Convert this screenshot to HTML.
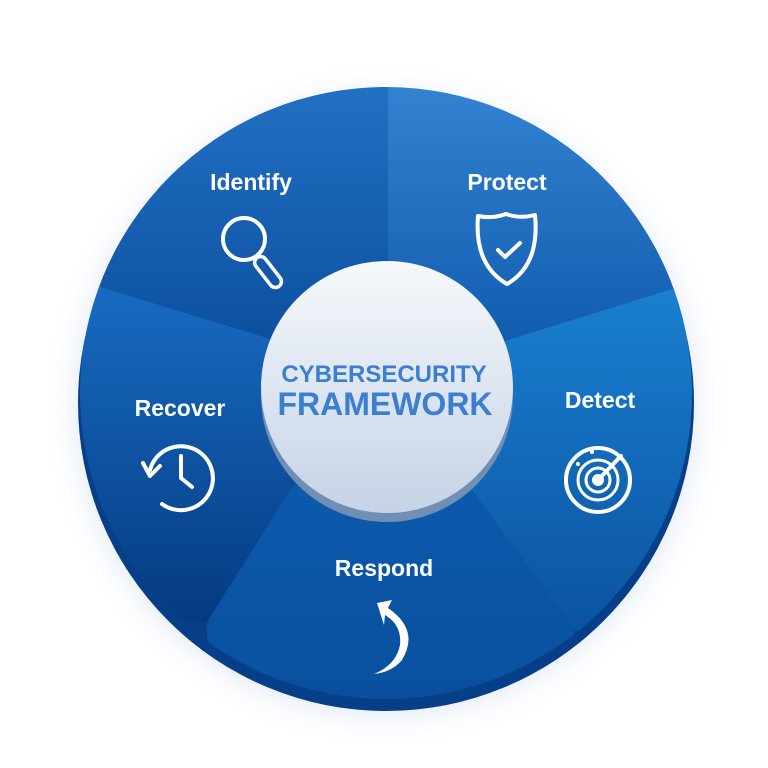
<!DOCTYPE html>
<html><head><meta charset="utf-8"><style>
html,body{margin:0;padding:0;background:#fff;width:768px;height:768px;overflow:hidden}
svg{display:block}
text{font-family:"Liberation Sans",sans-serif;font-weight:bold}
</style></head><body>
<svg width="768" height="768" viewBox="0 0 768 768">
<defs>
<radialGradient id="glow" cx="50%" cy="50%" r="50%">
<stop offset="80%" stop-color="#b8cbe6" stop-opacity="0.8"/>
<stop offset="100%" stop-color="#ffffff" stop-opacity="0"/>
</radialGradient>
<clipPath id="cc"><circle cx="386" cy="393" r="306"/></clipPath>
<linearGradient id="gId" x1="0" y1="0" x2="0" y2="1"><stop offset="0" stop-color="#2676cb"/><stop offset="1" stop-color="#084a98"/></linearGradient>
<linearGradient id="gPr" x1="0" y1="0" x2="0" y2="1"><stop offset="0" stop-color="#3a89d8"/><stop offset="1" stop-color="#0b55a8"/></linearGradient>
<linearGradient id="gDe" x1="0" y1="0" x2="0" y2="1"><stop offset="0" stop-color="#1a82d2"/><stop offset="1" stop-color="#094a98"/></linearGradient>
<linearGradient id="gRs" x1="0" y1="0" x2="0" y2="1"><stop offset="0" stop-color="#0d5fb4"/><stop offset="1" stop-color="#094b98"/></linearGradient>
<linearGradient id="gRc" x1="0" y1="0" x2="0" y2="1"><stop offset="0" stop-color="#176cc3"/><stop offset="1" stop-color="#053a80"/></linearGradient>
<linearGradient id="gC" x1="0" y1="0" x2="0" y2="1"><stop offset="0" stop-color="#f6f8fb"/><stop offset="1" stop-color="#c5d3e6"/></linearGradient>
</defs>
<circle cx="386" cy="405" r="345" fill="url(#glow)"/>
<circle cx="386" cy="403" r="308" fill="#063f88"/>
<g clip-path="url(#cc)">
<polygon points="388,388 388,40 40,210 94,285 264,337" fill="url(#gId)"/>
<polygon points="388,388 388,40 740,40 740,270 681,288 511,339" fill="url(#gPr)"/>
<polygon points="388,388 511,339 740,268 740,700 575,630 475,494" fill="url(#gDe)"/>
<polygon points="388,388 475,494 575,630 560,760 210,760 207,622 290,490" fill="url(#gRs)"/>
<polygon points="388,388 290,490 207,622 40,600 40,283 94,285 264,337" fill="url(#gRc)"/>
<polygon points="207,622 575,630 560,680 210,680" fill="#0a52a2"/>
</g>
<circle cx="387" cy="396" r="126" fill="#6f8fb5"/>
<circle cx="387" cy="387" r="126" fill="url(#gC)"/>
<text x="384" y="382" text-anchor="middle" font-size="24" fill="#3a7fd0">CYBERSECURITY</text>
<text x="385" y="415" text-anchor="middle" font-size="32" fill="#3a7fd0">FRAMEWORK</text>
<g fill="#fff" font-size="23" text-anchor="middle">
<text x="251" y="190">Identify</text>
<text x="507" y="190">Protect</text>
<text x="180" y="416">Recover</text>
<text x="600" y="408">Detect</text>
<text x="384" y="576">Respond</text>
</g>
<g fill="none" stroke="#fff" stroke-width="4" stroke-linecap="round" stroke-linejoin="round">
<circle cx="244" cy="239" r="21"/>
<rect x="262" y="254" width="12" height="36" rx="6" transform="rotate(-38 268 272)" stroke-width="3.5"/>
<path d="M478,216 Q492,219 506,214 Q520,219 535,215 Q540,265 507,284 Q474,265 478,216 Z"/>
<path d="M498,250 L505,257 L520,243"/>
<path d="M150,470 A32,32 0 1 1 162,504"/>
<path d="M143,463 L150,476 L160,466"/>
<path d="M181,456 L181,478 L192,487"/>
<circle cx="598" cy="480" r="32"/>
<circle cx="598" cy="480" r="20" stroke-width="3"/>
<circle cx="598" cy="480" r="12" stroke-width="3"/>
<path d="M598,480 L621,456"/>
</g>
<g fill="#fff">
<circle cx="598" cy="480" r="6"/>
<circle cx="592" cy="452" r="2"/>
<circle cx="578" cy="464" r="2"/>
<path d="M377,603 L392,600 L388,608 Q420,630 402,660 Q392,672 374,674 Q396,665 400,645 Q402,625 385,615 L384,625 Z"/>
</g>
</svg>
</body></html>
